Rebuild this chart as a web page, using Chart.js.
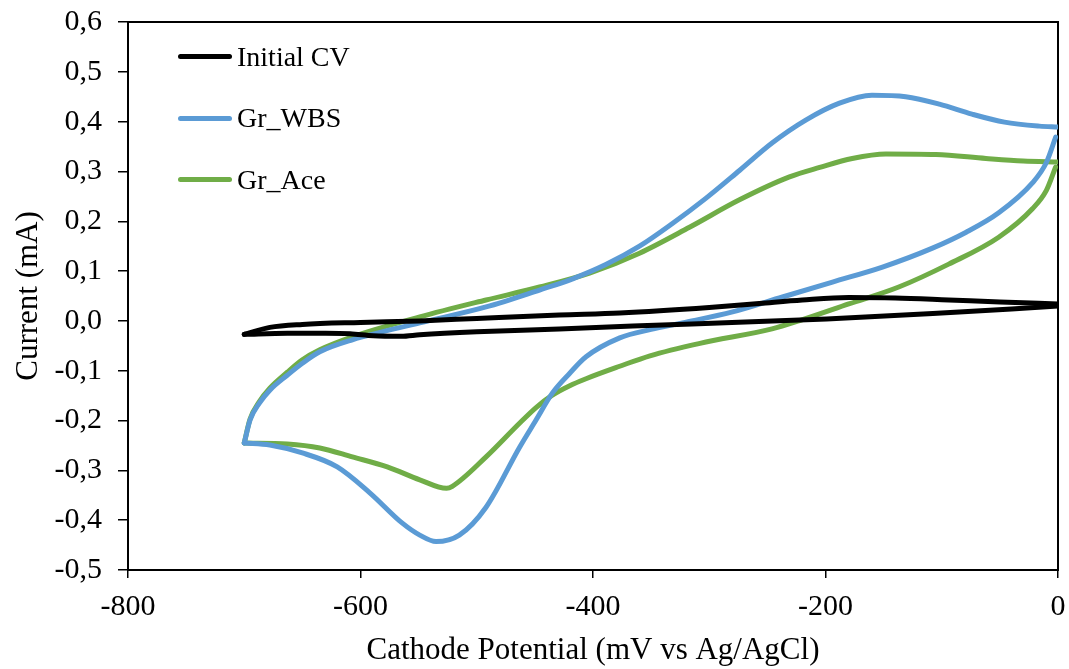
<!DOCTYPE html>
<html>
<head>
<meta charset="utf-8">
<script src="https://cdn.jsdelivr.net/npm/chart.js@4.4.0/dist/chart.umd.min.js"></script>
<style>
  body { margin: 0; background: #fff; }
  #wrap { position: relative; width: 1069px; height: 669px; }
  #legend { position: absolute; left: 178px; top: 26px; font-family: "Liberation Serif", "Times New Roman", serif; font-size: 28px; color: #000; }
  .item { display: flex; align-items: center; height: 61.5px; }
  .swatch { width: 54px; height: 5px; border-radius: 3px; margin-right: 5px; }
</style>
</head>
<body>
<div id="wrap">
  <canvas id="cvChart"></canvas>
  <div id="legend"></div>
</div>
<script>
// axis ticks
const xTicks = [-800, -600, -400, -200, 0];
const yTicks = [-0.5, -0.4, -0.3, -0.2, -0.1, 0, 0.1, 0.2, 0.3, 0.4, 0.5, 0.6];

const seriesNames = ['Initial CV', 'Gr_WBS', 'Gr_Ace'];
const seriesColors = ['#000000', '#5B9BD5', '#70AD47'];

// each loop is split into its upper and lower branch (mV vs mA)
// Initial CV
const initUpV = [-700, -678, -650, -600, -549, -500, -429, -377, -300, -257, -220, -180, -140, -94, -50, 0];
const initUpI = [-0.027, -0.013, -0.007, -0.003, 0.000, 0.005, 0.012, 0.016, 0.027, 0.035, 0.042, 0.047, 0.046, 0.042, 0.038, 0.034];
const initLowV = [-700, -663, -630, -609, -589, -565, -549, -500, -429, -315, -199, -85, -40, 0];
const initLowI = [-0.027, -0.025, -0.025, -0.026, -0.030, -0.031, -0.028, -0.022, -0.016, -0.006, 0.004, 0.018, 0.024, 0.030];

// Gr_WBS
const wbsUpV = [-700, -695, -687, -678, -663, -650, -635, -607, -549, -492, -446, -418, -389, -360, -332, -303, -274, -246, -217, -188, -160, -131, -102, -74, -46, -16, 0];
const wbsUpI = [-0.245, -0.199, -0.165, -0.139, -0.109, -0.085, -0.062, -0.038, -0.004, 0.028, 0.062, 0.084, 0.113, 0.150, 0.195, 0.246, 0.302, 0.357, 0.403, 0.437, 0.453, 0.450, 0.435, 0.415, 0.399, 0.391, 0.389];
const wbsLowV = [-700, -678, -650, -620, -592, -564, -549, -535, -515, -492, -463, -449, -435, -420, -406, -377, -350, -323, -280, -237, -194, -151, -108, -79, -51, -22, -10, -2];
const wbsLowI = [-0.245, -0.249, -0.265, -0.293, -0.345, -0.406, -0.430, -0.443, -0.430, -0.374, -0.253, -0.199, -0.145, -0.105, -0.072, -0.034, -0.017, -0.004, 0.018, 0.048, 0.078, 0.108, 0.146, 0.178, 0.217, 0.277, 0.318, 0.369];

// Gr_Ace
const aceUpV = [-700, -695, -687, -678, -663, -650, -635, -607, -549, -492, -446, -403, -360, -317, -274, -231, -205, -177, -148, -105, -62, -30, 0];
const aceUpI = [-0.245, -0.197, -0.162, -0.135, -0.103, -0.078, -0.058, -0.032, 0.008, 0.042, 0.068, 0.096, 0.136, 0.188, 0.243, 0.289, 0.308, 0.326, 0.335, 0.334, 0.326, 0.321, 0.319];
const aceLowV = [-700, -663, -635, -607, -577, -549, -526, -521, -492, -463, -449, -435, -420, -406, -377, -351, -308, -246, -223, -180, -137, -94, -51, -22, -10, -2];
const aceLowI = [-0.245, -0.247, -0.255, -0.273, -0.293, -0.319, -0.336, -0.332, -0.273, -0.205, -0.174, -0.149, -0.130, -0.116, -0.091, -0.070, -0.045, -0.016, 0.000, 0.034, 0.068, 0.114, 0.168, 0.225, 0.262, 0.309];

const FONT = '"Liberation Serif", "Times New Roman", serif';

function pts(xs, ys) {
  return xs.map((x, i) => ({ x: x, y: ys[i] }));
}

const branches = [
  [0, pts(initUpV, initUpI)], [0, pts(initLowV, initLowI)],
  [1, pts(wbsUpV, wbsUpI)], [1, pts(wbsLowV, wbsLowI)],
  [2, pts(aceUpV, aceUpI)], [2, pts(aceLowV, aceLowI)]
];

const boxPlugin = {
  id: 'box',
  beforeDatasetsDraw(chart) {
    const a = chart.chartArea, c = chart.ctx;
    c.save();
    c.strokeStyle = '#000';
    c.lineWidth = 2;
    c.strokeRect(a.left, a.top, a.right - a.left, a.bottom - a.top);
    c.restore();
  }
};

// keep the plot area where the layout padding says
function noLabelPadding(s) {
  s.paddingTop = 0; s.paddingBottom = 0; s.paddingLeft = 0; s.paddingRight = 0;
}

const ctx = document.getElementById('cvChart').getContext('2d');
Chart.defaults.font.family = FONT;
Chart.defaults.color = '#000';

const myChart = new Chart(ctx, {
  type: 'scatter',
  data: {
    datasets: branches.map(b => ({
      label: seriesNames[b[0]],
      data: b[1],
      showLine: true,
      borderColor: seriesColors[b[0]],
      backgroundColor: seriesColors[b[0]],
      borderWidth: 5,
      pointRadius: 0,
      cubicInterpolationMode: 'monotone',
      borderCapStyle: 'round',
      borderJoinStyle: 'round'
    }))
  },
  options: {
    responsive: true,
    maintainAspectRatio: false,
    animation: false,
    layout: { padding: { top: 22, right: 11, left: 0, bottom: 0 } },
    plugins: { legend: { display: false }, tooltip: { enabled: false } },
    scales: {
      x: {
        type: 'linear',
        min: -800, max: 0,
        afterBuildTicks: s => { s.ticks = xTicks.map(v => ({ value: v })); },
        afterFit: s => { s.height = 99; noLabelPadding(s); },
        grid: { drawOnChartArea: false, tickLength: 8, color: '#000', lineWidth: 1.5 },
        border: { color: '#000', width: 2 },
        ticks: { font: { size: 30 }, padding: 11, maxRotation: 0 },
        title: { display: true, text: 'Cathode Potential (mV vs Ag/AgCl)', font: { size: 31 }, padding: { top: 0, bottom: 0 } }
      },
      y: {
        type: 'linear',
        min: -0.5, max: 0.6,
        afterBuildTicks: s => { s.ticks = yTicks.map(v => ({ value: v })); },
        afterFit: s => { s.width = 128; noLabelPadding(s); },
        grid: { drawOnChartArea: false, tickLength: 10, color: '#000', lineWidth: 1.5 },
        border: { color: '#000', width: 2 },
        ticks: {
          font: { size: 30 }, padding: 16,
          callback: v => (Math.round(v * 10) / 10).toFixed(1).replace('.', ',')
        },
        title: { display: true, text: 'Current (mA)', font: { size: 31 }, padding: { top: 10, bottom: 0 } }
      }
    }
  },
  plugins: [boxPlugin]
});

// legend inside the plot area
const legendBox = document.getElementById('legend');
seriesNames.forEach((name, i) => {
  const row = document.createElement('div');
  row.className = 'item';
  const sw = document.createElement('span');
  sw.className = 'swatch';
  sw.style.background = seriesColors[i];
  const tx = document.createElement('span');
  tx.textContent = name;
  row.appendChild(sw);
  row.appendChild(tx);
  legendBox.appendChild(row);
});
</script>
</body>
</html>
